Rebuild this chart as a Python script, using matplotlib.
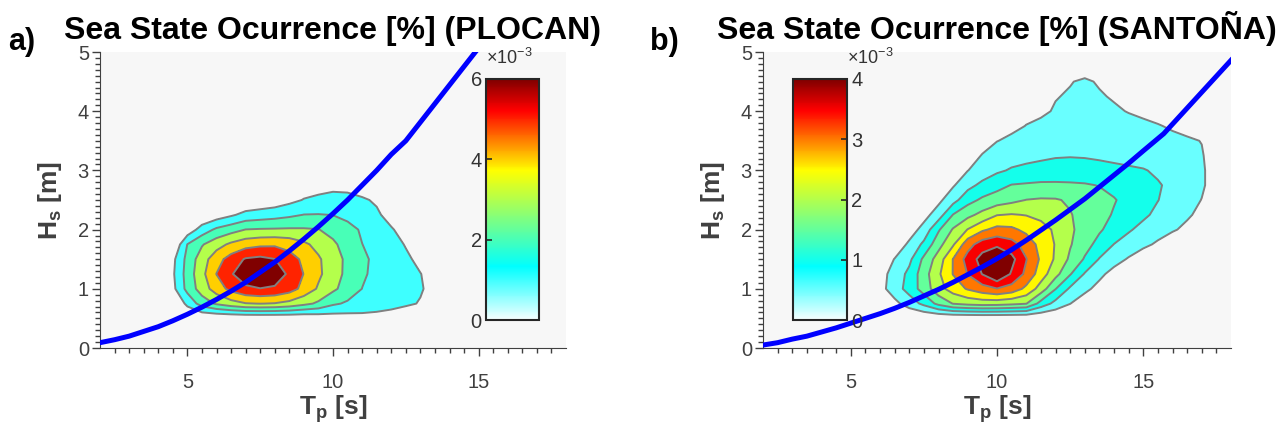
import numpy as np
import matplotlib
matplotlib.use("Agg")
import matplotlib.pyplot as plt
from matplotlib.colors import LinearSegmentedColormap, Normalize
from matplotlib.cm import ScalarMappable
from matplotlib.ticker import FixedLocator

plt.rcParams['font.family'] = ['Liberation Sans', 'DejaVu Sans']
plt.rcParams['mathtext.fontset'] = 'custom'
plt.rcParams['mathtext.rm'] = 'Liberation Sans'
plt.rcParams['mathtext.bf'] = 'Liberation Sans:bold'
plt.rcParams['mathtext.it'] = 'Liberation Sans:italic'

# ---- data (occurrence values in units of 1e-3) ----
# PLOCAN: rows = Hs, columns = Tp
tp_a = [3, 3.5, 4, 4.5, 5, 5.5, 6, 6.5, 7, 7.5, 8, 8.5, 9, 9.5, 10,
        10.5, 11, 11.5, 12, 12.5, 13, 13.5, 14, 14.5, 15]
hs_a = [0, 0.25, 0.5, 0.75, 1.0, 1.25, 1.5, 1.75, 2.0, 2.25, 2.5, 2.75, 3.0]
occ_a = [
    [0] * 25,
    [0] * 25,
    [0, 0, 0, 0, 0, 0, 0, 0.02, 0.05, 0.06, 0.07, 0.1, 0.12, 0.28, 0.45, 0.55, 0.62, 0.6, 0.52, 0.38, 0.2, 0.05, 0, 0, 0],
    [0, 0, 0, 0, 1.24, 2.45, 3.14, 3.6, 3.95, 4.02, 3.95, 3.7, 3.27, 2.83, 2.16, 1.86, 1.68, 1.5, 1.32, 1.13, 0.95, 0.6, 0.2, 0, 0],
    [0, 0, 0, 0.72, 2.32, 3.48, 4.48, 5.3, 5.8, 5.97, 5.85, 5.45, 4.69, 3.87, 3.2, 2.57, 1.99, 1.76, 1.53, 1.3, 1.07, 0.75, 0.4, 0.1, 0],
    [0, 0, 0, 0.85, 2.41, 3.71, 5.02, 5.91, 6.6, 6.85, 6.6, 5.81, 4.97, 4.19, 3.44, 2.75, 2.12, 1.79, 1.53, 1.26, 1.02, 0.7, 0.4, 0.1, 0],
    [0, 0, 0, 0.75, 2.31, 3.53, 4.6, 5.43, 6.1, 6.25, 6.02, 5.41, 4.8, 4.13, 3.44, 2.78, 2.19, 1.78, 1.46, 1.14, 0.81, 0.5, 0.2, 0, 0],
    [0, 0, 0, 0, 2.02, 2.91, 3.6, 4.2, 4.6, 4.8, 4.85, 4.65, 4.2, 3.69, 3.17, 2.6, 2.01, 1.7, 1.3, 0.95, 0.59, 0.3, 0.1, 0, 0],
    [0, 0, 0, 0, 0.36, 1.43, 2.19, 2.6, 3.02, 3.08, 3.1, 3.12, 3.1, 3.03, 2.69, 2.3, 1.89, 1.48, 1.07, 0.7, 0.3, 0.1, 0, 0, 0],
    [0, 0, 0, 0, 0, 0.1, 0.44, 0.85, 1.3, 1.45, 1.6, 1.8, 2.02, 2.04, 1.98, 1.75, 1.5, 1.12, 0.72, 0.4, 0.1, 0, 0, 0, 0],
    [0, 0, 0, 0, 0, 0, 0, 0, 0.1, 0.25, 0.4, 0.72, 1.05, 1.18, 1.25, 1.22, 1.1, 0.9, 0.73, 0.4, 0.1, 0, 0, 0, 0],
    [0, 0, 0, 0, 0, 0, 0, 0, 0, 0, 0.2, 0.35, 0.5, 0.68, 0.8, 0.78, 0.6, 0.45, 0.3, 0.1, 0, 0, 0, 0, 0],
    [0] * 25,
]
levels_a = [1, 2, 3, 4, 5, 6]
cticks_a = [0, 2, 4, 6]

# SANTOÑA: rows = Hs, columns = Tp
tp_b = [5, 5.5, 6, 6.5, 7, 7.5, 8, 8.5, 9, 9.5, 10, 10.5, 11, 11.5, 12,
        12.5, 13, 13.5, 14, 14.5, 15, 15.5, 16, 16.5, 17, 17.5, 18]
hs_b = [0, 0.25, 0.5, 0.75, 1.0, 1.25, 1.5, 1.75, 2.0, 2.25, 2.5,
        2.75, 3.0, 3.25, 3.5, 3.75, 4.0, 4.25, 4.5, 4.75, 5.0]
occ_b = [
    [0] * 27,
    [0] * 27,
    [0] * 27,
    [0, 0, 0, 0.37, 0.72, 1.13, 1.64, 2.02, 2.15, 2.22, 2.2, 2.12, 2.02, 1.31, 0.84, 0.51, 0.2, 0, 0, 0, 0, 0, 0, 0, 0, 0, 0],
    [0, 0, 0.33, 0.75, 1.2, 1.72, 2.31, 2.73, 3.05, 3.3, 3.48, 3.3, 2.88, 2.28, 1.52, 0.92, 0.63, 0.33, 0.04, 0, 0, 0, 0, 0, 0, 0, 0],
    [0, 0, 0.31, 0.69, 1.13, 1.78, 2.42, 3.02, 3.52, 4.02, 4.5, 3.94, 3.38, 2.75, 2.17, 1.54, 0.96, 0.63, 0.31, 0, 0, 0, 0, 0, 0, 0, 0],
    [0, 0, 0.12, 0.52, 0.88, 1.61, 2.23, 3.02, 3.7, 4.2, 4.5, 4.15, 3.52, 2.92, 2.43, 1.91, 1.45, 0.97, 0.71, 0.45, 0.18, 0, 0, 0, 0, 0, 0],
    [0, 0, 0, 0.15, 0.6, 1.11, 1.82, 2.44, 3.3, 3.75, 3.9, 3.7, 3.29, 2.84, 2.47, 2.04, 1.68, 1.34, 0.99, 0.81, 0.62, 0.42, 0.22, 0, 0, 0, 0],
    [0, 0, 0, 0, 0.25, 0.68, 1.44, 2.05, 2.52, 2.92, 3.15, 3.1, 2.88, 2.67, 2.43, 2.08, 1.81, 1.56, 1.31, 1.05, 0.87, 0.71, 0.55, 0.4, 0.26, 0.1, 0],
    [0, 0, 0, 0, 0, 0.32, 0.75, 1.52, 1.86, 2.15, 2.48, 2.53, 2.48, 2.38, 2.22, 2.03, 1.83, 1.65, 1.46, 1.27, 1.08, 0.9, 0.73, 0.56, 0.39, 0.22, 0.05],
    [0, 0, 0, 0, 0, 0, 0.38, 0.82, 1.32, 1.59, 1.73, 1.87, 2.01, 2.05, 2.04, 1.94, 1.81, 1.67, 1.53, 1.36, 1.19, 1.01, 0.84, 0.66, 0.49, 0.3, 0.1],
    [0, 0, 0, 0, 0, 0, 0.06, 0.45, 0.84, 1.13, 1.34, 1.52, 1.56, 1.6, 1.6, 1.58, 1.55, 1.48, 1.37, 1.26, 1.15, 1.04, 0.9, 0.73, 0.56, 0.3, 0],
    [0, 0, 0, 0, 0, 0, 0.05, 0.29, 0.49, 0.71, 0.92, 1.05, 1.1, 1.13, 1.15, 1.16, 1.15, 1.13, 1.1, 1.07, 1.03, 0.93, 0.81, 0.69, 0.56, 0.3, 0],
    [0, 0, 0, 0, 0, 0, 0, 0.1, 0.34, 0.52, 0.7, 0.8, 0.88, 0.93, 0.97, 0.98, 0.97, 0.94, 0.9, 0.85, 0.8, 0.75, 0.7, 0.62, 0.53, 0.3, 0],
    [0, 0, 0, 0, 0, 0, 0, 0, 0.2, 0.36, 0.49, 0.58, 0.65, 0.69, 0.72, 0.74, 0.75, 0.73, 0.7, 0.67, 0.64, 0.61, 0.58, 0.55, 0.49, 0.25, 0],
    [0, 0, 0, 0, 0, 0, 0, 0, 0, 0.15, 0.3, 0.41, 0.51, 0.55, 0.58, 0.59, 0.6, 0.59, 0.58, 0.57, 0.55, 0.52, 0.46, 0.38, 0.2, 0.05, 0],
    [0, 0, 0, 0, 0, 0, 0, 0, 0, 0, 0.2, 0.3, 0.4, 0.46, 0.52, 0.55, 0.56, 0.55, 0.53, 0.49, 0.45, 0.38, 0.25, 0.1, 0, 0, 0],
    [0, 0, 0, 0, 0, 0, 0, 0, 0, 0, 0.1, 0.2, 0.3, 0.4, 0.49, 0.52, 0.54, 0.52, 0.48, 0.4, 0.3, 0.15, 0, 0, 0, 0, 0],
    [0, 0, 0, 0, 0, 0, 0, 0, 0, 0, 0, 0, 0.1, 0.25, 0.42, 0.49, 0.53, 0.48, 0.44, 0.3, 0.1, 0, 0, 0, 0, 0, 0],
    [0, 0, 0, 0, 0, 0, 0, 0, 0, 0, 0, 0, 0, 0.1, 0.25, 0.33, 0.4, 0.32, 0.3, 0.1, 0, 0, 0, 0, 0, 0, 0],
    [0] * 27,
]
levels_b = [0.5, 1.0, 1.5, 2.0, 2.5, 3.0, 3.5, 4.0]
cticks_b = [0, 1, 2, 3, 4]

# blue limit curve
line_tp_a = [2, 2.5, 3, 3.5, 4, 4.5, 5, 5.5, 6, 6.5, 7, 7.5, 8, 8.5, 9,
             9.5, 10, 10.5, 11, 11.5, 12, 12.5, 15]
line_hs_a = [0.09, 0.14, 0.2, 0.28, 0.36, 0.46, 0.57, 0.69, 0.82, 0.96, 1.11,
             1.28, 1.45, 1.64, 1.84, 2.05, 2.27, 2.5, 2.75, 3.0, 3.27, 3.5, 5.07]
line_tp_b = [2, 2.5, 3, 3.5, 4, 4.5, 5, 5.5, 6, 6.5, 7, 7.5, 8, 8.5, 9, 9.5,
             10, 10.5, 11, 11.5, 12, 12.5, 13, 13.5, 14, 14.5, 15, 15.7, 18]
line_hs_b = [0.05, 0.09, 0.15, 0.2, 0.27, 0.34, 0.42, 0.5, 0.58, 0.67, 0.77,
             0.88, 0.99, 1.11, 1.24, 1.37, 1.51, 1.66, 1.82, 1.99, 2.16, 2.34,
             2.52, 2.72, 2.92, 3.12, 3.33, 3.62, 4.86]

# white -> cyan -> yellow -> red -> dark red
cmap = LinearSegmentedColormap.from_list(
    'occ', [(0.0, '#f5ffff'), (0.22, '#00ffff'), (0.62, '#ffff00'),
            (0.87, '#ff0000'), (1.0, '#800000')])

GREY = '#404040'


def draw_panel(ax, cax, tp, hs, occ, levels, cticks, ltp, lhs, title, tag, tag_x, cbar_right):
    vmax = cticks[-1]
    occ = np.array(occ)
    fills = [cmap(l / vmax) for l in levels]
    ax.contourf(tp, hs, occ, levels=levels + [100], colors=fills, zorder=1)
    ax.contour(tp, hs, occ, levels=levels, colors='#808080', linewidths=1.4, zorder=2)
    ax.plot(ltp, lhs, color='#0000ff', lw=3.6, zorder=3, solid_joinstyle='round')

    ax.set_facecolor('#f7f7f7')
    ax.set_xlim(2, 18)
    ax.set_ylim(0, 5)
    ax.set_xticks([5, 10, 15])
    ax.set_yticks([0, 1, 2, 3, 4, 5])
    ax.xaxis.set_minor_locator(FixedLocator(np.arange(2.5, 18, 0.5)))
    ax.yaxis.set_minor_locator(FixedLocator(np.arange(0.1, 5, 0.1)))
    ax.tick_params(which='both', direction='out', color=GREY, width=1)
    ax.tick_params(which='major', length=6, labelsize=14.5, labelcolor=GREY)
    ax.tick_params(which='minor', length=3.5)
    ax.tick_params(axis='x', pad=12)
    ax.tick_params(axis='y', pad=2)
    for s in ['top', 'right']:
        ax.spines[s].set_visible(False)
    for s in ['left', 'bottom']:
        ax.spines[s].set_color(GREY)

    ax.set_xlabel(r'$\mathbf{T_p}$ [s]', fontsize=19, fontweight='bold', color=GREY, labelpad=1)
    ax.set_ylabel(r'$\mathbf{H_s}$ [m]', fontsize=19, fontweight='bold', color=GREY, labelpad=10)
    ax.set_title(title, fontsize=23, fontweight='bold', pad=9)
    fig.text(tag_x, 1 - 50 / 437, tag, fontsize=22, fontweight='bold', va='baseline')

    # inset colorbar
    sm = ScalarMappable(norm=Normalize(0, vmax), cmap=cmap)
    cb = fig.colorbar(sm, cax=cax, ticks=cticks)
    cb.outline.set_edgecolor('#262626')
    cb.outline.set_linewidth(1.5)
    cax.yaxis.set_ticks_position('right' if cbar_right else 'left')
    cax.tick_params(direction='in', length=4, width=1.2, color='#262626',
                    labelsize=14.5, labelcolor='#333333', pad=3)
    x0 = 1.0 if cbar_right else 0.0
    cax.text(x0, 1.045, r'$\times10^{-3}$', transform=cax.transAxes,
             ha='left', va='bottom', fontsize=13, color='#333333')


W, H = 1278, 437
fig = plt.figure(figsize=(W / 100, H / 100), dpi=100)

ax_a = fig.add_axes([100 / W, 1 - 348 / H, 466 / W, 296 / H])
cax_a = fig.add_axes([486 / W, 1 - 320 / H, 53 / W, 241 / H])
ax_b = fig.add_axes([763 / W, 1 - 348 / H, 468 / W, 296 / H])
cax_b = fig.add_axes([793 / W, 1 - 320 / H, 54 / W, 241 / H])

draw_panel(ax_a, cax_a, tp_a, hs_a, occ_a, levels_a, cticks_a, line_tp_a, line_hs_a,
           'Sea State Ocurrence [%] (PLOCAN)', 'a)', 8 / W, False)
draw_panel(ax_b, cax_b, tp_b, hs_b, occ_b, levels_b, cticks_b, line_tp_b, line_hs_b,
           'Sea State Ocurrence [%] (SANTOÑA)', 'b)', 650 / W, True)

fig.savefig('out.png', dpi=100)
